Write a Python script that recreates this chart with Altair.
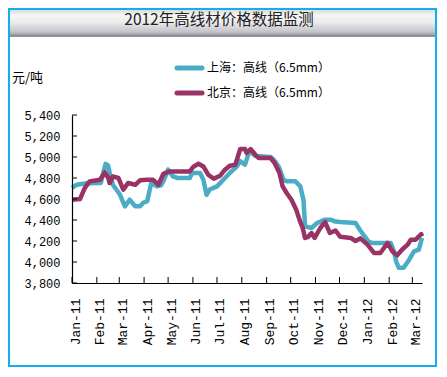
import altair as alt
import pandas as pd

title_text = "2012年高线材价格数据监测"
unit_text = "元/吨"
series_names = ["上海：高线（6.5mm）", "北京：高线（6.5mm）"]
series_colors = ["#4BACC6", "#993366"]

sh_dates = ["2011-01-01", "2011-01-07", "2011-01-19", "2011-02-06", "2011-02-10", "2011-02-12",
            "2011-02-15", "2011-02-17", "2011-02-21", "2011-03-02", "2011-03-08", "2011-03-14",
            "2011-03-21", "2011-03-27", "2011-03-31", "2011-04-05", "2011-04-06", "2011-04-10",
            "2011-04-17", "2011-04-22", "2011-04-25", "2011-05-01", "2011-05-07", "2011-05-13",
            "2011-05-28", "2011-05-31", "2011-06-10", "2011-06-14", "2011-06-18", "2011-06-22",
            "2011-07-01", "2011-07-09", "2011-07-17", "2011-07-26", "2011-07-30", "2011-08-05",
            "2011-08-09", "2011-08-12", "2011-08-18", "2011-09-06", "2011-09-10", "2011-09-16",
            "2011-09-22", "2011-09-26", "2011-10-07", "2011-10-13", "2011-10-17", "2011-10-19",
            "2011-10-27", "2011-11-03", "2011-11-13", "2011-11-20", "2011-11-26", "2011-12-02",
            "2011-12-21", "2011-12-27", "2012-01-06", "2012-01-11", "2012-02-03", "2012-02-07",
            "2012-02-10", "2012-02-13", "2012-02-19", "2012-02-26", "2012-03-03", "2012-03-09",
            "2012-03-13"]
sh_values = [4705, 4736, 4750, 4752, 4880, 4935,
             4920, 4850, 4736, 4640, 4530, 4593,
             4530, 4530, 4564, 4580, 4620, 4752,
             4720, 4730, 4768, 4879, 4815, 4800,
             4800, 4848, 4848, 4784, 4640, 4690,
             4720, 4784, 4848, 4910, 4960, 4927,
             5022, 5050, 5010, 5000, 4974, 4910,
             4784, 4768, 4768, 4720, 4593, 4339,
             4324, 4371, 4403, 4403, 4385, 4380,
             4371, 4300, 4196, 4181, 4181, 4101,
             4000, 3945, 3945, 4022, 4101, 4117,
             4229]

bj_dates = ["2011-01-01", "2011-01-11", "2011-01-17", "2011-01-23", "2011-02-05", "2011-02-11",
            "2011-02-15", "2011-02-17", "2011-02-21", "2011-02-28", "2011-03-06", "2011-03-12",
            "2011-03-21", "2011-03-27", "2011-04-04", "2011-04-12", "2011-04-19", "2011-04-25",
            "2011-05-03", "2011-05-28", "2011-06-02", "2011-06-08", "2011-06-14", "2011-06-20",
            "2011-06-27", "2011-07-05", "2011-07-11", "2011-07-17", "2011-07-24", "2011-07-30",
            "2011-08-05", "2011-08-07", "2011-08-12", "2011-08-18", "2011-08-22", "2011-09-06",
            "2011-09-11", "2011-09-17", "2011-09-21", "2011-09-26", "2011-10-02", "2011-10-08",
            "2011-10-12", "2011-10-16", "2011-10-19", "2011-10-23", "2011-10-27", "2011-10-31",
            "2011-11-07", "2011-11-13", "2011-11-19", "2011-11-26", "2011-12-02", "2011-12-15",
            "2011-12-21", "2011-12-27", "2012-01-05", "2012-01-13", "2012-01-21", "2012-01-30",
            "2012-02-05", "2012-02-11", "2012-02-17", "2012-02-24", "2012-02-28", "2012-03-05",
            "2012-03-12", "2012-03-13"]
bj_values = [4593, 4600, 4705, 4768, 4784, 4853,
             4805, 4752, 4815, 4800, 4690, 4752,
             4736, 4778, 4784, 4784, 4736, 4840,
             4863, 4863, 4910, 4936, 4910, 4831,
             4794, 4822, 4879, 4917, 4927, 5076,
             5076, 5040, 5076, 5022, 4990, 4990,
             4943, 4848, 4720, 4657, 4593, 4498,
             4403, 4324, 4229, 4240, 4276, 4229,
             4324, 4380, 4276, 4300, 4240, 4229,
             4200, 4225, 4165, 4086, 4086, 4181,
             4101, 4065, 4117, 4165, 4213, 4213,
             4265, 4245]

y_ticks = [3800, 4000, 4200, 4400, 4600, 4800, 5000, 5200, 5400]
month_ticks = ["2011-01-01", "2011-02-01", "2011-03-01", "2011-04-01", "2011-05-01",
               "2011-06-01", "2011-07-01", "2011-08-01", "2011-09-01", "2011-10-01",
               "2011-11-01", "2011-12-01", "2012-01-01", "2012-02-01", "2012-03-01"]
x_start = "2011-01-01"
x_end = "2012-03-13"

W, H = 350, 168
PAD = {"left": 64, "top": 107, "right": 15, "bottom": 84}


def dt(s):
    y, m, d = (int(p) for p in s.split("-"))
    return alt.DateTime(year=y, month=m, date=d)


frames = []
for name, ds, vs in [(series_names[0], sh_dates, sh_values), (series_names[1], bj_dates, bj_values)]:
    frames.append(pd.DataFrame({"date": pd.to_datetime(ds), "price": vs, "series": name}))
df = pd.concat(frames, ignore_index=True)

color_scale = alt.Scale(domain=series_names, range=series_colors)
x_scale = alt.Scale(domain=[dt(x_start), dt(x_end)])
y_scale = alt.Scale(domain=[y_ticks[0], y_ticks[-1]], nice=False, zero=False)

x_axis = alt.Axis(values=[dt(m) for m in month_ticks], format="%b-%y", labelAngle=-90,
                  title=None, grid=False, ticks=False, labelPadding=15, labelOffset=3,
                  labelFont="Liberation Mono", labelFontSize=13, labelColor="#000",
                  domainColor="#000", domainWidth=1.2, labelOverlap=False, zindex=1)
y_axis = alt.Axis(values=y_ticks, format=",d", title=None, grid=False, ticks=False,
                  labelPadding=12, labelFont="Liberation Mono", labelFontSize=12,
                  labelColor="#000", domainColor="#000", domainWidth=1.2, zindex=1)

one = pd.DataFrame({"k": [0]})

# frame border
border = alt.Chart(one).mark_rect(fillOpacity=0, stroke="#14AEEA", strokeWidth=2).encode(
    x=alt.value(-PAD["left"] + 1), x2=alt.value(W + PAD["right"] - 1),
    y=alt.value(-PAD["top"] + 1), y2=alt.value(H + PAD["bottom"] - 1))

grad = alt.LinearGradient(
    gradient="linear", x1=0, x2=0, y1=0, y2=1,
    stops=[alt.GradientStop(color="#dcdcde", offset=0),
           alt.GradientStop(color="#f6f6f6", offset=0.2),
           alt.GradientStop(color="#ececee", offset=0.45),
           alt.GradientStop(color="#c4c4ca", offset=0.8),
           alt.GradientStop(color="#a8a8b0", offset=0.9),
           alt.GradientStop(color="#86868e", offset=0.95),
           alt.GradientStop(color="#a0a0a8", offset=1.0)])
title_bar = alt.Chart(one).mark_rect(fill=grad).encode(
    x=alt.value(-PAD["left"] + 2), x2=alt.value(W + PAD["right"] - 2),
    y=alt.value(-PAD["top"] + 2), y2=alt.value(37 - 115))

title = alt.Chart(pd.DataFrame({"t": [title_text]})).mark_text(
    font="Noto Sans CJK SC", fontSize=15.5, color="#222", align="center", baseline="middle"
).encode(text="t:N", x=alt.value(147), y=alt.value(19.5 - 115))

unit = alt.Chart(pd.DataFrame({"t": [unit_text]})).mark_text(
    font="Noto Sans CJK SC", fontSize=13, color="#000", align="left", baseline="middle"
).encode(text="t:N", x=alt.value(12 - 72), y=alt.value(78 - 115))

legend_layers = []
for i, name in enumerate(series_names):
    ly = -47 + 25 * i
    ldf = pd.DataFrame({"series": [name]})
    legend_layers.append(alt.Chart(ldf).mark_rule(strokeWidth=5, strokeCap="round").encode(
        x=alt.value(105), x2=alt.value(130), y=alt.value(ly),
        color=alt.Color("series:N", scale=color_scale, legend=None)))
    legend_layers.append(alt.Chart(ldf).mark_text(
        font="Noto Sans CJK SC", fontSize=12, color="#000", align="left", baseline="middle"
    ).encode(text="series:N", x=alt.value(135), y=alt.value(ly)))

lines = alt.Chart(df).mark_line(strokeWidth=4.5, strokeJoin="round").encode(
    x=alt.X("date:T", scale=x_scale, axis=x_axis),
    y=alt.Y("price:Q", scale=y_scale, axis=y_axis),
    color=alt.Color("series:N", scale=color_scale, legend=None),
    order=alt.Order("date:T"),
    detail="series:N")

ytick_df = pd.DataFrame({"v": y_ticks})
yticks = alt.Chart(ytick_df).mark_rule(color="#000", strokeWidth=1).encode(
    y=alt.Y("v:Q", scale=y_scale, axis=y_axis), x=alt.value(0), x2=alt.value(5))

xtick_df = pd.DataFrame({"d": pd.to_datetime(month_ticks)})
xticks = alt.Chart(xtick_df).mark_rule(color="#000", strokeWidth=1).encode(
    x=alt.X("d:T", scale=x_scale, axis=x_axis), y=alt.value(H), y2=alt.value(H - 6))

chart = alt.layer(border, title_bar, title, unit, *legend_layers, lines, yticks, xticks).properties(
    width=W, height=H, padding=PAD, autosize=alt.AutoSizeParams(type="none"),
    background="white"
).configure_view(stroke=None)

chart.save("out.html", embed_options={"renderer": "svg", "actions": False})
